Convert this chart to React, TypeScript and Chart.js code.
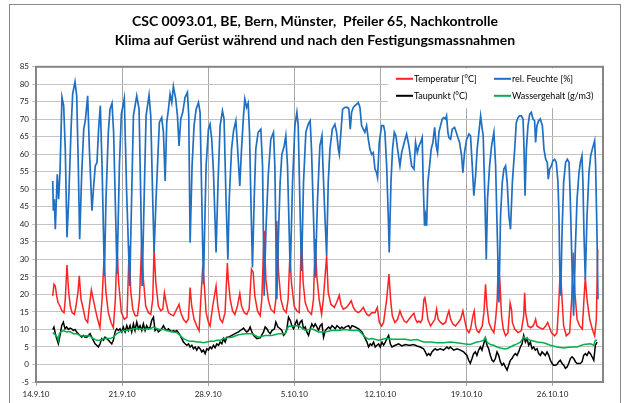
import React, { useEffect, useRef } from "react";
import { Chart, registerables } from "chart.js";

Chart.register(...registerables);

// ---------- text ----------
const TITLE_LINES = [
  "CSC 0093.01, BE, Bern, Münster,  Pfeiler 65, Nachkontrolle",
  "Klima auf Gerüst während und nach den Festigungsmassnahmen",
];
const SERIES_NAMES = ["Temperatur [°C]", "rel. Feuchte [%]", "Taupunkt (°C)", "Wassergehalt (g/m3)"];
const SERIES_COLORS = ["#ff2222", "#1f6fc2", "#000000", "#00b050"];

// x axis: days since 14.9.10, weekly ticks
const WEEK_DAYS = [0, 7, 14, 21, 28, 35, 42];
const WEEK_LABELS = ["14.9.10", "21.9.10", "28.9.10", "5.10.10", "12.10.10", "19.10.10", "26.10.10"];
const X_MIN = 0;
const X_MAX = 46.1;
const Y_MIN = -5;
const Y_MAX = 85;
const Y_STEP = 5;

// ---------- data: [day, value] ----------
const temperature: [number, number][] = [
  [1.36,19.6],[1.46,22.9],[1.57,22.4],[1.68,19.6],[1.79,17.7],[1.95,16.7],[2.11,15.3],[2.28,14.8],[2.38,18.6],[2.52,28.4],[2.66,20.5],[2.79,16.7],[2.93,14.8],[3.12,14.3],[3.25,16.7],[3.41,20.5],[3.52,25.3],[3.66,18.6],[3.79,16.7],[4.01,12.9],[4.2,12],[4.34,16.7],[4.5,21.3],[4.66,18.6],[4.82,15.8],[5.01,12.9],[5.2,10.5],[5.37,18.6],[5.53,30.1],[5.69,20.5],[5.88,14.8],[6.1,12],[6.29,10.5],[6.45,18.6],[6.59,32.9],[6.72,23.4],[6.94,14.8],[7.18,12.9],[7.4,13.5],[7.58,33.9],[7.7,21],[7.87,15.8],[8.06,13.9],[8.25,13.9],[8.41,18.6],[8.6,34.8],[8.73,24.3],[8.92,16.7],[9.14,14.8],[9.33,14.3],[9.49,18.6],[9.6,32.9],[9.74,23.4],[9.95,16.7],[10.14,15.3],[10.31,15.8],[10.44,20.5],[10.58,17.7],[10.77,14.8],[10.96,14.3],[11.17,13.9],[11.44,15.8],[11.63,17.2],[11.77,14.8],[11.99,12.9],[12.2,12],[12.39,12.9],[12.53,22],[12.66,16.7],[12.85,12.9],[13.07,11],[13.26,9.6],[13.4,18.6],[13.56,28.2],[13.67,23.4],[13.83,14.8],[14.02,12],[14.15,11],[14.37,16.7],[14.64,22.4],[14.78,16.7],[14.97,12.9],[15.16,12],[15.37,14.8],[15.56,29],[15.63,24.3],[15.79,18.6],[15.98,15.3],[16.17,14.3],[16.38,16.7],[16.57,20.3],[16.71,16.7],[16.93,14.8],[17.14,14.3],[17.33,15.8],[17.52,27.2],[17.66,26.3],[17.79,19.6],[18.01,15.3],[18.23,13.9],[18.36,18.6],[18.55,38.2],[18.69,24.3],[18.88,18.6],[19.09,15.8],[19.37,14.8],[19.5,18.6],[19.58,41],[19.72,26.3],[19.91,18.6],[20.12,15.8],[20.34,14.8],[20.5,18.6],[20.64,31],[20.77,23.4],[20.99,16.7],[21.21,15.3],[21.4,14.8],[21.59,37.2],[21.72,23.4],[21.89,17.7],[22.13,15.3],[22.4,14.3],[22.56,18.6],[22.7,35.8],[22.83,25.3],[23.02,18.6],[23.22,14.3],[23.36,18.6],[23.63,31],[23.76,20.5],[23.98,17.2],[24.25,16.3],[24.44,17.7],[24.66,19.8],[24.79,17.2],[24.98,15.8],[25.25,16.3],[25.44,17.2],[25.63,18.2],[25.8,16.3],[25.99,15.3],[26.2,14.8],[26.39,15.3],[26.61,16.3],[26.74,15.3],[26.91,14.3],[27.07,13.9],[27.29,14.8],[27.56,14.8],[27.75,16.3],[27.91,12],[28.1,11],[28.26,12],[28.51,18.6],[28.7,25.8],[28.83,18.6],[28.97,13.9],[29.18,12],[29.4,12.9],[29.59,15.3],[29.73,13.9],[29.94,12.4],[30.13,12],[30.32,12.9],[30.54,13.9],[30.73,14.6],[30.86,12.9],[31,12],[31.13,12.4],[31.27,12],[31.4,12.9],[31.54,18.6],[31.62,19.1],[31.73,16.7],[31.86,12.9],[32.08,11],[32.27,12],[32.43,12.9],[32.57,15.8],[32.7,12.9],[32.89,12],[33.08,11.5],[33.3,12],[33.44,13.9],[33.57,15.3],[33.71,12.9],[33.9,11.5],[34.11,11],[34.33,12],[34.52,12.9],[34.71,15.3],[34.84,12.9],[35.01,10.1],[35.2,9.1],[35.33,10.1],[35.52,13.9],[35.63,15.3],[35.74,11],[35.87,9.6],[36.01,9.1],[36.15,10.1],[36.28,11],[36.42,14.8],[36.55,22.9],[36.66,16.7],[36.82,12],[37.04,10.1],[37.23,9.1],[37.37,12.9],[37.5,18.6],[37.58,29.1],[37.72,23.4],[37.85,13.9],[37.99,10.1],[38.18,8.2],[38.37,9],[38.55,17.5],[38.67,15.5],[38.73,12],[38.92,10.1],[39.19,9.1],[39.46,9.6],[39.65,13.9],[39.73,20.5],[39.81,14.8],[40,11],[40.22,10.5],[40.41,11],[40.54,12],[40.62,12.9],[40.73,11],[40.95,10.5],[41.22,10.1],[41.44,11],[41.6,12],[41.71,11],[41.9,9.1],[42.17,8.2],[42.36,9.1],[42.52,18.6],[42.63,27.7],[42.77,18.6],[42.9,11],[43.12,8.2],[43.39,9.1],[43.55,18.6],[43.69,32],[43.82,20.5],[43.99,12.9],[44.2,11],[44.42,10.1],[44.55,18.6],[44.66,24.8],[44.8,18.6],[45.02,12.9],[45.23,10.1],[45.42,8.2],[45.56,12.9],[45.67,32.9],
];

const humidity: [number, number][] = [
  [1.36,52.4],[1.41,43.9],[1.49,47.2],[1.57,38.6],[1.73,54.3],[1.84,47.2],[1.95,54.8],[2.11,76.3],[2.25,73.9],[2.38,61.5],[2.52,36.3],[2.66,47.2],[2.85,67.2],[2.98,77.2],[3.17,80.7],[3.31,76.7],[3.44,56.7],[3.55,35.8],[3.71,53.9],[3.88,67.2],[4.01,69.6],[4.2,76.7],[4.34,61.5],[4.55,43.9],[4.66,49.6],[4.82,56.7],[4.96,57.7],[5.09,67.2],[5.23,73.9],[5.37,56.7],[5.56,25.3],[5.69,47.2],[5.88,66.3],[6.02,72.9],[6.18,74.6],[6.31,66.3],[6.59,25.8],[6.78,56.7],[6.94,71.5],[7.18,76],[7.37,49.1],[7.62,22.4],[7.92,71],[8.19,76.7],[8.38,72.9],[8.52,47.2],[8.63,22.4],[8.79,47.2],[8.95,71],[9.19,76.9],[9.33,71],[9.49,47.2],[9.6,32],[9.76,47.2],[10.03,69.1],[10.22,70.5],[10.36,66.3],[10.5,52.4],[10.63,69.1],[10.77,72.9],[10.9,77.2],[11.04,74.8],[11.17,79.4],[11.36,75.8],[11.5,71],[11.63,62.4],[11.77,70.1],[11.93,72],[12.12,76.3],[12.31,77.7],[12.42,71],[12.53,34.8],[12.69,56.7],[12.85,68.2],[13.02,72.9],[13.21,74.8],[13.34,72],[13.48,47.2],[13.61,22.9],[13.83,56.7],[14.02,67.2],[14.15,68.6],[14.29,64.3],[14.43,54.8],[14.64,32],[14.8,52],[14.97,68.2],[15.16,72.4],[15.29,70.1],[15.45,47.2],[15.6,30],[15.71,47.2],[15.9,61.5],[16.06,66.7],[16.25,69.6],[16.38,62.4],[16.57,51],[16.71,61.5],[16.87,71],[16.98,75.8],[17.12,73.4],[17.25,74.6],[17.36,66.3],[17.47,47.2],[17.6,27.7],[17.74,47.2],[17.87,61.5],[18.06,66.3],[18.28,67.2],[18.42,56.7],[18.55,19.6],[18.69,37.7],[18.88,53.9],[19.09,64.3],[19.31,66.3],[19.42,56.7],[19.58,18.6],[19.72,37.7],[19.85,52],[19.99,60],[20.18,62.4],[20.31,65.3],[20.45,56.7],[20.67,26.3],[20.86,52],[21.05,68.2],[21.21,72],[21.32,68.2],[21.45,47.2],[21.59,26.7],[21.75,52],[21.94,66.3],[22.13,68.6],[22.29,69.6],[22.4,61.5],[22.56,42.4],[22.7,24.8],[22.89,47.2],[23.08,62.4],[23.25,65.3],[23.33,56.7],[23.49,42.4],[23.63,31],[23.76,52],[23.9,61.5],[24.09,67.2],[24.3,68.6],[24.44,66.3],[24.58,61.5],[24.66,60],[24.79,66.3],[24.93,72.9],[25.12,73.4],[25.33,73.4],[25.44,72.9],[25.55,67.2],[25.66,72],[25.8,73.4],[25.93,73.9],[26.07,74.3],[26.2,74.8],[26.34,73.4],[26.47,68.2],[26.61,67.2],[26.74,66.3],[26.88,68.2],[27.02,64.3],[27.15,61.5],[27.29,60],[27.42,60.5],[27.56,55.8],[27.69,54.8],[27.77,53.4],[27.91,63.4],[28.1,68.2],[28.26,68.2],[28.37,66.3],[28.51,56.7],[28.64,42.4],[28.72,32],[28.86,52],[28.99,61.5],[29.13,66.3],[29.26,65.3],[29.4,61.5],[29.59,56.7],[29.73,60.5],[29.94,63.4],[30.13,65.8],[30.32,62.4],[30.54,56.7],[30.73,55.8],[30.86,63.4],[31,60.5],[31.13,62.4],[31.27,63.4],[31.4,64.8],[31.48,52],[31.59,39.6],[31.67,42.4],[31.76,39.6],[31.86,52],[32,56.7],[32.13,61.5],[32.27,63.4],[32.41,67.7],[32.54,62.4],[32.65,60.5],[32.76,66.3],[32.89,68.2],[33.03,70.1],[33.16,70.5],[33.3,70.1],[33.38,71],[33.49,66.3],[33.57,64.8],[33.71,64.3],[33.84,67.2],[34.03,67.7],[34.17,66.3],[34.3,64.8],[34.44,63.4],[34.6,59.6],[34.71,54.8],[34.84,60.5],[35.01,64.3],[35.2,65.8],[35.33,65.3],[35.47,56.7],[35.6,48.2],[35.74,53.9],[35.87,61.5],[36.01,66.3],[36.15,71],[36.28,67.2],[36.36,65.3],[36.5,47.2],[36.61,30],[36.71,47.2],[36.88,56.7],[37.04,62.4],[37.23,66.3],[37.37,56.7],[37.5,37.7],[37.64,17.7],[37.77,42.4],[37.91,52],[38.04,55.8],[38.18,56.7],[38.31,52],[38.45,42.4],[38.58,38.6],[38.73,52],[38.92,61.5],[39.05,69.1],[39.19,70.5],[39.32,71],[39.46,71],[39.6,70.1],[39.68,61.5],[39.76,48.2],[39.87,61.5],[40,68.2],[40.14,71.5],[40.27,72],[40.41,70.1],[40.54,69.6],[40.62,63.4],[40.73,68.2],[40.87,69.6],[41,70.1],[41.17,68.2],[41.3,61.5],[41.44,58.6],[41.57,57.7],[41.65,52.9],[41.76,55.8],[41.9,56.7],[42.03,58.2],[42.17,58.6],[42.3,57.7],[42.44,52],[42.52,42.4],[42.58,28.2],[42.66,19.6],[42.77,37.7],[42.9,52],[43.06,57.7],[43.2,58.6],[43.34,57.7],[43.44,47.2],[43.58,28.2],[43.71,13.9],[43.85,32.9],[43.99,47.2],[44.15,54.8],[44.26,57.7],[44.39,59.6],[44.47,52],[44.55,37.7],[44.66,24.3],[44.8,42.4],[44.96,54.8],[45.1,59.6],[45.23,61.5],[45.42,63.9],[45.5,56.7],[45.61,37.7],[45.69,18.6],
];

const dewPoint: [number, number][] = [
  [1.36,10],[1.46,10.7],[1.57,8.8],[1.68,7.4],[1.82,5.9],[1.95,8.3],[2.09,11.1],[2.22,12.1],[2.36,10.2],[2.49,10.7],[2.63,10],[2.77,10.4],[2.9,10.2],[3.04,9.7],[3.17,10],[3.31,9.3],[3.44,8.8],[3.58,8.3],[3.72,7.8],[3.85,8.3],[3.99,7.8],[4.12,7.8],[4.26,8.3],[4.39,8.8],[4.53,7.8],[4.66,6.9],[4.8,5.9],[4.94,5.5],[5.07,5],[5.21,5.9],[5.34,7.4],[5.48,6.9],[5.61,7.8],[5.75,7.4],[5.89,6.9],[6.02,6.4],[6.16,5.9],[6.29,6.9],[6.43,9.3],[6.56,10.2],[6.7,9.7],[6.83,10.2],[6.97,9.3],[7.1,10.7],[7.24,9.3],[7.38,11.1],[7.51,9.7],[7.65,11.1],[7.78,9.3],[7.92,11.6],[8.05,9.7],[8.19,12.1],[8.33,10.2],[8.46,11.1],[8.6,9.7],[8.73,11.6],[8.87,9.7],[9,11.1],[9.14,10.2],[9.28,10.7],[9.41,12.6],[9.55,13.5],[9.68,9.7],[9.82,10.2],[9.95,9.3],[10.09,9.7],[10.22,10.2],[10.36,11.1],[10.5,10.2],[10.63,9.7],[10.77,10.2],[10.9,9.7],[11.04,9.4],[11.17,9.7],[11.31,9.4],[11.45,9.7],[11.58,9.1],[11.72,8.3],[11.85,7.4],[11.99,6.4],[12.12,5.9],[12.26,5.5],[12.4,5.9],[12.53,5],[12.67,5.5],[12.8,4.5],[12.94,5],[13.07,4.1],[13.21,5],[13.34,4.5],[13.48,3.6],[13.62,4.1],[13.75,3.1],[13.89,4.5],[14.02,4.1],[14.16,5],[14.29,4.5],[14.43,5.5],[14.56,4.8],[14.7,5.9],[14.84,5.5],[14.97,6.4],[15.11,5.9],[15.24,7.4],[15.38,6.4],[15.51,7.8],[15.65,7.8],
  [15.92,8.3],[16.19,8.8],[16.46,9.3],[16.74,10],[16.87,10.4],[17.01,9.7],[17.14,9.3],[17.28,9.7],[17.41,10.7],[17.55,9.3],[17.69,8.3],[17.96,7.4],[18.23,7.6],[18.5,9.3],[18.63,10.7],[18.77,10.2],[18.91,9.3],[19.04,8.8],[19.18,9.7],[19.39,10.2],[19.5,12.1],[19.67,10.7],[19.86,10.2],[19.99,9.7],[20.13,8.3],[20.26,8.8],[20.4,10.2],[20.53,13.5],[20.67,12.6],[20.8,11.1],[20.94,10.2],[21.08,11.6],[21.21,12.6],[21.35,10.7],[21.48,12.1],[21.62,12.6],[21.75,10.2],[21.89,10.7],[22.02,9.3],[22.16,8.3],[22.3,10.2],[22.43,11.6],[22.57,10.7],[22.7,11.6],[22.84,10.7],[22.97,9.7],[23.11,11.1],[23.25,11.6],[23.38,7.8],[23.52,9.7],[23.65,10.2],[23.79,10.7],[23.92,10.2],[24.06,11.1],[24.19,10.7],[24.33,10.2],[24.47,11.1],[24.6,10.7],[24.74,10.2],[24.87,10.7],[25.01,10.2],[25.14,10.7],[25.42,11.1],[25.55,10.2],[25.69,11.1],[25.96,10.7],[26.23,10.2],[26.5,9.3],[26.64,8.3],[26.77,7.4],[26.91,6.4],[27.04,5],[27.18,5.9],[27.31,5.5],[27.45,6.4],[27.58,5],[27.72,5.5],[27.86,5.9],[27.99,5],[28.13,6.4],[28.26,5.5],[28.4,6.4],[28.53,7.4],[28.67,8.3],[28.81,5.9],[28.94,5],[29.21,5.5],[29.48,5.9],[29.75,5.3],[30.03,5.7],[30.3,5.5],
  [30.43,5.5],[30.7,5.7],[30.97,5.3],[31.24,5],[31.51,4.5],[31.65,3.6],[31.79,2.6],[31.92,3.1],[32.06,2.6],[32.19,3.6],[32.33,4.1],[32.46,4.5],[32.6,4.1],[32.87,4.5],[33.14,4.1],[33.41,5],[33.55,4.5],[33.68,5],[33.96,4.1],[34.23,4.5],[34.5,4.1],[34.77,3.6],[35.04,2.6],[35.18,1.2],[35.31,0.3],[35.45,1.7],[35.58,3.1],[35.72,3.6],[35.85,2.6],[35.99,4.1],[36.13,5],[36.26,4.1],[36.4,5.9],[36.53,7.4],[36.67,5.5],[36.8,4.5],[36.94,2.6],[37.08,1.2],[37.21,0.8],[37.35,1.7],[37.48,3.6],[37.62,2.6],[37.75,0.8],[37.89,-0.2],[38.02,0.3],[38.16,-0.7],[38.3,-1.6],[38.43,-0.2],[38.57,1.2],[38.7,1.7],[38.84,2.6],[38.97,3.1],[39.11,2.6],[39.24,3.6],[39.38,5],[39.52,5.9],[39.65,8.3],[39.79,6.4],[39.92,7.4],[40.06,5.5],[40.19,6.4],[40.33,4.5],[40.46,5],[40.6,4.1],[40.74,4.5],[40.87,3.1],[41.01,2.6],[41.14,3.6],[41.28,3.1],[41.41,2.6],[41.55,3.6],[41.69,2.6],[41.82,1.2],[41.96,0.3],[42.09,-0.2],[42.23,-0.2],[42.36,0],[42.5,0.8],[42.63,1.2],[42.77,0.3],[42.91,-0.2],[43.04,-1.1],[43.18,-0.7],[43.31,0.3],[43.45,1.7],[43.58,2.2],[43.72,1.7],[43.86,0.8],[43.99,0.3],[44.26,0.3],[44.4,0.8],[44.53,2.6],[44.67,3.1],[44.8,2.6],[44.94,3.6],[45.08,3.1],[45.21,2.2],[45.35,1.2],[45.48,5.5],[45.62,6.4],
];

const waterContent: [number, number][] = [
  [1.36,9.1],[1.46,8.8],[1.6,8.3],[1.74,7.8],[1.82,6.9],[1.9,8.8],[2.01,9.3],[2.12,9.4],[2.22,9.7],[2.49,9.3],[2.77,9.4],[3.04,8.8],[3.31,8.8],[3.58,8.3],[3.85,8.1],[4.12,8.3],[4.39,8.1],[4.66,7.4],[4.94,6.9],[5.21,6.9],[5.48,7.4],[5.75,7.4],[6.02,7.4],[6.29,7.8],[6.56,8.8],[6.83,9.3],[7.1,9.7],[7.38,9.7],[7.65,10],[7.92,10.2],[8.19,10.2],[8.46,10.2],[8.73,10],[9,10.2],[9.28,10.2],[9.55,10.7],[9.82,10.2],[10.09,10],[10.36,10],[10.63,9.7],[10.9,9.4],[11.17,9.3],[11.45,9.1],[11.72,8.3],[11.99,7.4],[12.26,6.9],[12.53,6.6],[12.8,6.6],[13.07,6.4],[13.34,6.4],[13.62,6.2],[13.89,6.4],[14.16,6.6],[14.43,6.6],[14.7,6.9],[14.97,6.9],[15.24,7.4],[15.51,7.6],
  [15.92,7.8],[16.46,8.5],[17.01,8.8],[17.55,8.8],[18.09,7.8],[18.63,8.3],[19.18,8.3],[19.72,8.8],[20.26,8.8],[20.53,10.9],[20.8,10.9],[21.35,11.1],[21.89,9.7],[22.43,10.2],[22.97,9.3],[23.52,9.3],[24.06,9.7],[24.6,9.7],[25.14,10],[25.69,9.7],[26.23,9.7],[26.5,8.8],[26.77,7.8],[27.04,7.2],[27.31,7.4],[27.86,6.9],[28.4,7.4],[28.67,7.4],[28.94,7.2],[29.48,7.2],[30.03,7.2],
  [30.43,6.9],[30.97,7.1],[31.51,6.4],[32.06,6.4],[32.6,6.2],[33.14,6.2],[33.68,6.4],[34.23,6.2],[34.77,5.9],[35.31,5.7],[35.85,6.4],[36.13,6.6],[36.4,6.9],[36.53,7.8],[36.67,6.4],[36.94,5.7],[37.21,5.5],[37.48,5],[37.75,4.7],[38.02,4.5],[38.3,4.5],[38.57,5],[38.84,5.5],[39.11,5.9],[39.38,6.4],[39.65,7.8],[39.79,7.4],[39.92,7.4],[40.19,6.9],[40.74,6.4],[41.28,6.2],[41.82,5.5],[42.36,5],[42.91,4.7],[43.45,5],[43.99,5],[44.53,5.7],[45.08,5.9],[45.35,5.5],[45.48,6.9],[45.62,6.9],
];

const SERIES_DATA = [temperature, humidity, dewPoint, waterContent];

const FONT = "Lato, 'Open Sans', 'DejaVu Sans', sans-serif";

const decorPlugin = {
  id: "decor",
  beforeDraw(chart: any) {
    const { ctx, width, height } = chart;
    ctx.save();
    ctx.fillStyle = "#ffffff";
    ctx.fillRect(0, 0, width, height);
    ctx.restore();
  },
  afterDatasetsDraw(chart: any) {
    const { ctx, chartArea: a } = chart;
    ctx.save();
    ctx.strokeStyle = "#858585";
    ctx.lineWidth = 2;
    ctx.strokeRect(a.left, a.top, a.right - a.left, a.bottom - a.top);
    ctx.restore();
  },
  afterDraw(chart: any) {
    const { ctx, chartArea: a } = chart;
    ctx.save();
    // legend box
    ctx.fillStyle = "#ffffff";
    ctx.fillRect(a.left + 352, a.top + 1.5, a.right - a.left - 353.5, 40);
    const cols = [a.left + 360, a.left + 458];
    const rows = [a.top + 12, a.top + 29];
    ctx.font = `9px ${FONT}`;
    ctx.textBaseline = "middle";
    ctx.textAlign = "left";
    SERIES_NAMES.forEach((name, i) => {
      const x = cols[i % 2];
      const y = rows[Math.floor(i / 2)];
      ctx.strokeStyle = SERIES_COLORS[i];
      ctx.lineWidth = 2;
      ctx.beginPath();
      ctx.moveTo(x, y);
      ctx.lineTo(x + 17, y);
      ctx.stroke();
      ctx.fillStyle = "#000000";
      ctx.fillText(name, x + 18, y);
    });
    // outer frame
    ctx.strokeStyle = "#8a8a8a";
    ctx.lineWidth = 1;
    ctx.strokeRect(9.5, 4.5, 611, 430);
    ctx.restore();
  },
};

export default function App() {
  const ref = useRef<HTMLCanvasElement | null>(null);

  useEffect(() => {
    if (!ref.current) return;
    const order = [3, 2, 1, 0]; // later series drawn on top
    const chart = new Chart(ref.current, {
      type: "line",
      data: {
        datasets: order.map((i) => ({
          label: SERIES_NAMES[i],
          data: SERIES_DATA[i].map(([x, y]) => ({ x, y })),
          borderColor: SERIES_COLORS[i],
          borderWidth: i === 1 ? 1.7 : 1.5,
          pointRadius: 0,
          tension: 0,
          fill: false,
        })),
      },
      options: {
        animation: false,
        responsive: false,
        devicePixelRatio: 1,
        parsing: true,
        layout: { padding: { left: 0, right: 0, top: 0, bottom: 0 } },
        plugins: {
          legend: { display: false },
          tooltip: { enabled: false },
          title: {
            display: true,
            text: TITLE_LINES,
            color: "#000000",
            font: { family: FONT, size: 14, weight: "bold", lineHeight: 1.35 },
            padding: { top: 12, bottom: 17 },
          },
        },
        scales: {
          x: {
            type: "linear",
            min: X_MIN,
            max: X_MAX,
            afterBuildTicks: (scale: any) => {
              scale.ticks = WEEK_DAYS.map((v) => ({ value: v }));
            },
            afterFit: (scale: any) => {
              scale.height = 21;
            },
            ticks: {
              autoSkip: false,
              maxRotation: 0,
              padding: 4,
              color: "#222",
              font: { family: FONT, size: 8 },
              callback: (v: any) => {
                const idx = WEEK_DAYS.indexOf(Number(v));
                return idx >= 0 ? WEEK_LABELS[idx] : "";
              },
            },
            grid: { color: "#a8a8a8", lineWidth: 1, tickLength: 4 },
            border: { display: false },
          },
          y: {
            type: "linear",
            min: Y_MIN,
            max: Y_MAX,
            afterFit: (scale: any) => {
              scale.width = 36;
            },
            ticks: {
              stepSize: Y_STEP,
              padding: 3,
              color: "#222",
              font: { family: FONT, size: 8 },
            },
            grid: { color: "#c4c4c4", lineWidth: 1, tickLength: 4 },
            border: { display: false },
          },
          yRight: {
            type: "linear",
            position: "right",
            display: true,
            afterFit: (scale: any) => {
              scale.width = 27;
            },
            ticks: { display: false },
            grid: { display: false, drawTicks: false },
            border: { display: false },
          },
        },
      },
      plugins: [decorPlugin],
    } as any);
    return () => chart.destroy();
  }, []);

  return (
    <div style={{ position: "fixed", left: 0, top: 0, width: 630, height: 403, background: "#fff" }}>
      <canvas ref={ref} width={630} height={403} style={{ width: 630, height: 403, display: "block" }} />
    </div>
  );
}
